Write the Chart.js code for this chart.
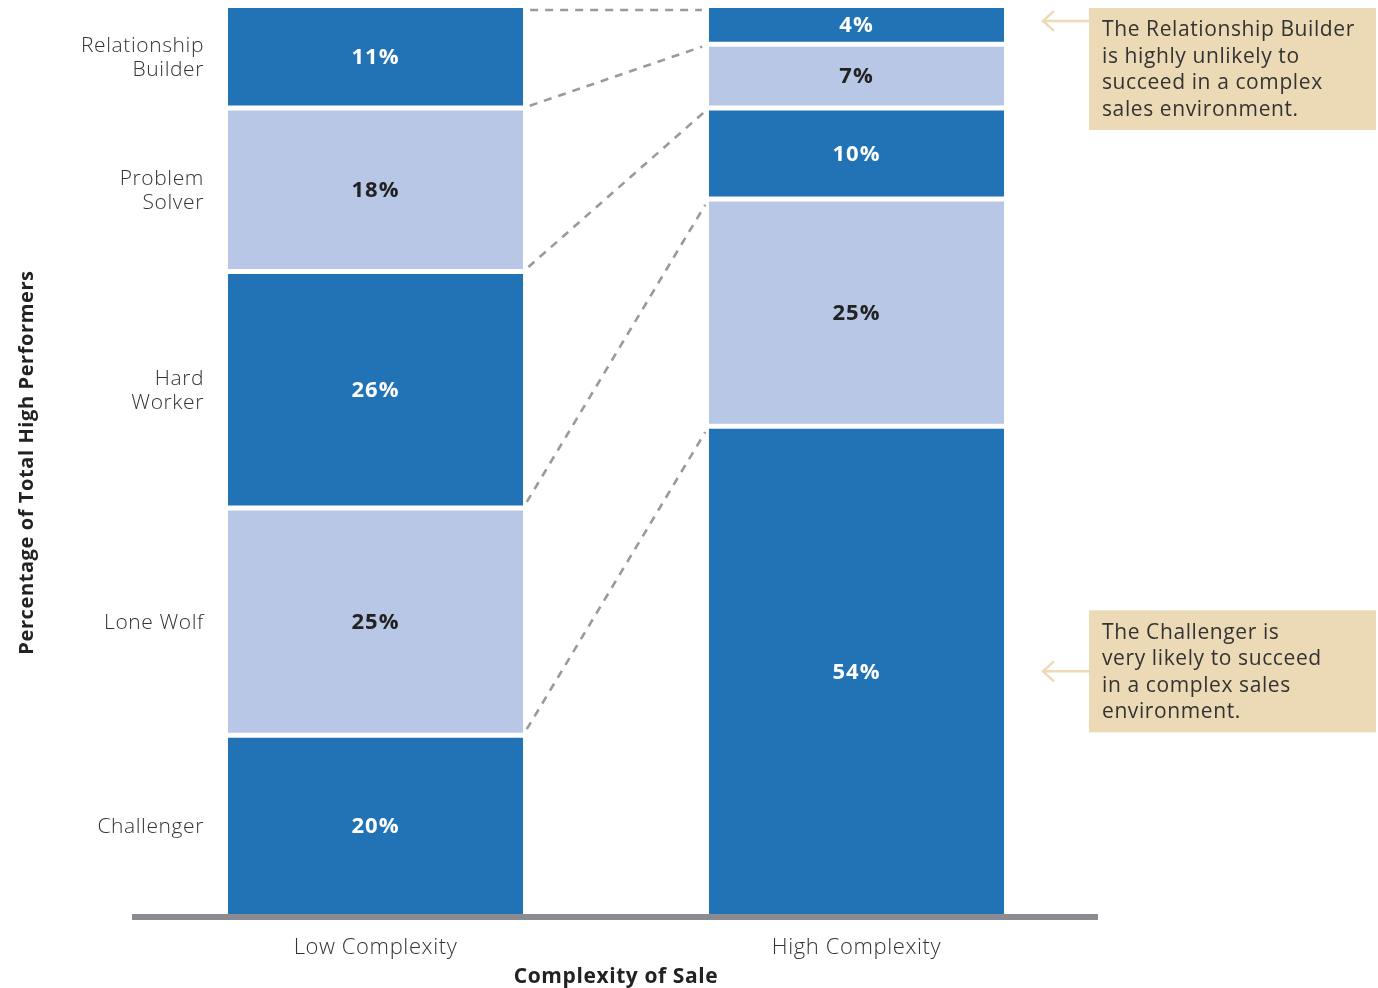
<!DOCTYPE html>
<html>
<head>
<meta charset="utf-8">
<script src="https://cdn.jsdelivr.net/npm/chart.js@4.4.1/dist/chart.umd.min.js"></script>
<style>
    html, body { margin: 0; padding: 0; background: #fff; }
    #wrap { width: 1378px; height: 988px; position: relative; }
</style>
</head>
<body>
<div id="wrap"><canvas id="profile-chart"></canvas></div>
<script>
// categories on the x axis
var complexityLevels = ['Low Complexity', 'High Complexity'];

// seller profiles, stacked from the bottom up
var profileNames = ['Challenger', 'Lone Wolf', 'Hard Worker', 'Problem Solver', 'Relationship Builder'];
var profileLabelLines = [['Challenger'], ['Lone Wolf'], ['Hard', 'Worker'], ['Problem', 'Solver'], ['Relationship', 'Builder']];

// percentage of total high performers
var lowComplexityShare = [20, 25, 26, 18, 11];
var highComplexityShare = [54, 25, 10, 7, 4];

// call-out notes, tied to a profile in the high complexity bar
var noteProfiles = [4, 0];
var noteLines = [
    ['The Relationship Builder', 'is highly unlikely to', 'succeed in a complex', 'sales environment.'],
    ['The Challenger is', 'very likely to succeed', 'in a complex sales', 'environment.']
];

var DARK_BLUE = '#2272b6';
var LIGHT_BLUE = '#b8c7e5';
var BEIGE = '#ecd9b6';
var HALF_GAP = 2.5;
var AXIS_HALF = 3;
var FONT = '"Open Sans", "Noto Sans", sans-serif';

var lastIndex = profileNames.length - 1;

var datasets = profileNames.map(function(name, i) {
    return {
        label: name,
        data: [lowComplexityShare[i], highComplexityShare[i]],
        backgroundColor: i % 2 === 0 ? DARK_BLUE : LIGHT_BLUE,
        borderColor: '#ffffff',
        borderWidth: {
            top: i === lastIndex ? 0 : HALF_GAP,
            bottom: i === 0 ? 0 : HALF_GAP,
            left: 0,
            right: 0
        },
        borderSkipped: false,
        barPercentage: 0.614,
        categoryPercentage: 1.0
    };
});

// vertical middle of the visible part of a segment
function segmentMiddle(el, i) {
    var top = el.y + (i === lastIndex ? 0 : HALF_GAP);
    var bottom = el.base - (i === 0 ? AXIS_HALF : HALF_GAP);
    return (top + bottom) / 2;
}

var spacingPlugin = {
    id: 'spacing',
    beforeDraw: function(chart) {
        chart.ctx.letterSpacing = '0.6px';
    }
};

var overlayPlugin = {
    id: 'overlay',
    afterDatasetsDraw: function(chart) {
        var ctx = chart.ctx;
        var area = chart.chartArea;
        var metas = datasets.map(function(d, i) { return chart.getDatasetMeta(i); });

        ctx.save();

        // dashed connectors between matching segment boundaries
        ctx.strokeStyle = '#9a9a9e';
        ctx.lineWidth = 2.6;
        ctx.setLineDash([8, 7]);
        metas.forEach(function(meta, i) {
            var low = meta.data[0];
            var high = meta.data[1];
            var shift = i === lastIndex ? 2 : 0;
            var x1 = low.x + low.width / 2;
            var y1 = low.y + shift;
            var x2 = high.x - high.width / 2;
            var y2 = high.y + shift;
            var len = Math.hypot(x2 - x1, y2 - y1);
            var ux = (x2 - x1) / len, uy = (y2 - y1) / len;
            ctx.beginPath();
            ctx.moveTo(x1 + ux * 7, y1 + uy * 7);
            ctx.lineTo(x2 - ux * 7, y2 - uy * 7);
            ctx.stroke();
        });
        ctx.setLineDash([]);

        // value labels inside each segment
        ctx.textAlign = 'center';
        ctx.textBaseline = 'middle';
        ctx.letterSpacing = '1px';
        ctx.font = 'bold 22px ' + FONT;
        metas.forEach(function(meta, i) {
            meta.data.forEach(function(el, j) {
                var value = datasets[i].data[j];
                ctx.fillStyle = i % 2 === 0 ? '#ffffff' : '#222222';
                ctx.fillText(value + '%', el.x, segmentMiddle(el, i) + 1);
            });
        });

        // profile names beside the low complexity bar
        ctx.letterSpacing = '0.6px';
        ctx.textAlign = 'right';
        ctx.font = '300 21px ' + FONT;
        ctx.fillStyle = '#333333';
        metas.forEach(function(meta, i) {
            var mid = segmentMiddle(meta.data[0], i);
            var lines = profileLabelLines[i];
            var lh = 24;
            lines.forEach(function(line, k) {
                ctx.fillText(line, area.left + 69, mid + (k - (lines.length - 1) / 2) * lh + 1);
            });
        });

        // call-out notes with arrows
        var boxLeft = area.right - 8;
        var boxRight = chart.width - 2;
        var lineH = 26.5;
        noteProfiles.forEach(function(p, n) {
            var el = metas[p].data[1];
            var anchorY = segmentMiddle(el, p);
            var lines = noteLines[n];
            var boxH = lines.length * lineH + 16;
            var boxTop = Math.max(area.top, anchorY - boxH / 2);
            if (p === lastIndex) {
                anchorY -= 4;
            }
            ctx.fillStyle = BEIGE;
            ctx.fillRect(boxLeft, boxTop, boxRight - boxLeft, boxH);

            ctx.strokeStyle = BEIGE;
            ctx.lineWidth = 2.4;
            ctx.beginPath();
            ctx.moveTo(boxLeft, anchorY);
            ctx.lineTo(boxLeft - 47, anchorY);
            ctx.moveTo(boxLeft - 35, anchorY - 10);
            ctx.lineTo(boxLeft - 46, anchorY);
            ctx.lineTo(boxLeft - 35, anchorY + 10);
            ctx.stroke();

            ctx.fillStyle = '#333333';
            ctx.textAlign = 'left';
            ctx.font = '21px ' + FONT;
            lines.forEach(function(line, k) {
                ctx.fillText(line, boxLeft + 13, boxTop + 8 + lineH * (k + 0.5) + 1);
            });
        });

        ctx.restore();
    }
};

var chart = new Chart(document.getElementById('profile-chart'), {
    type: 'bar',
    data: {
        labels: complexityLevels,
        datasets: datasets
    },
    options: {
        responsive: true,
        maintainAspectRatio: false,
        animation: false,
        layout: {
            padding: { top: 8, right: 281, bottom: 0, left: 10 }
        },
        plugins: {
            legend: { display: false },
            tooltip: { enabled: false }
        },
        scales: {
            x: {
                stacked: true,
                afterFit: function(scale) {
                    scale.height = 71;
                },
                grid: { display: false, drawTicks: false },
                border: { display: true, color: '#8b8b91', width: 6, z: 1 },
                ticks: {
                    color: '#333333',
                    font: { family: FONT, size: 22, weight: 300 },
                    padding: 18
                },
                title: {
                    display: true,
                    text: 'Complexity of Sale',
                    color: '#222222',
                    font: { family: FONT, size: 21, weight: 'bold' },
                    padding: { top: 0, bottom: -2 }
                }
            },
            y: {
                stacked: true,
                min: 0,
                max: 100,
                grid: { display: false, drawTicks: false },
                border: { display: false },
                ticks: { display: false },
                title: {
                    display: true,
                    text: 'Percentage of Total High Performers',
                    color: '#222222',
                    font: { family: FONT, size: 20, weight: 'bold' },
                    padding: { top: 5, bottom: 96 }
                }
            }
        }
    },
    plugins: [spacingPlugin, overlayPlugin]
});
</script>
</body>
</html>
